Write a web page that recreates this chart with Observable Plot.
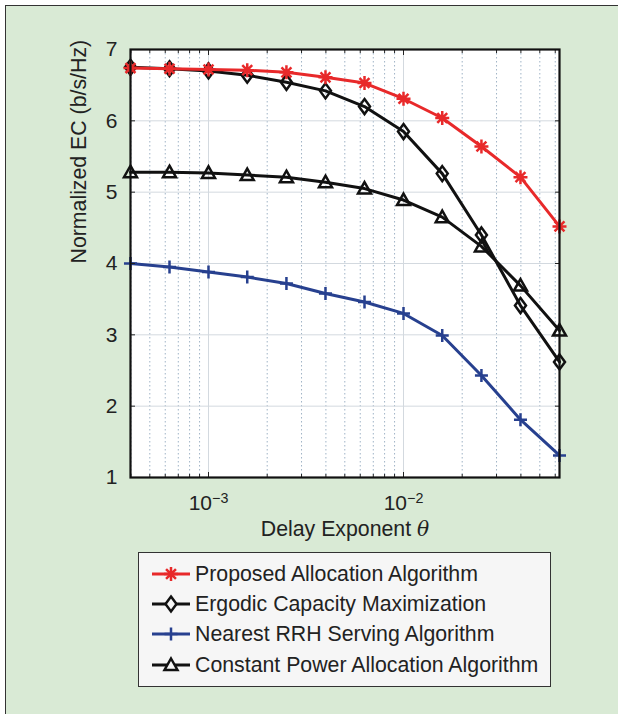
<!DOCTYPE html>
<html><head><meta charset="utf-8">
<script src="https://cdn.jsdelivr.net/npm/d3@7"></script>
<script src="https://cdn.jsdelivr.net/npm/@observablehq/plot@0.6"></script>
<style>
html,body{margin:0;padding:0;width:618px;height:714px;overflow:hidden;background:#fff;}
#panel{position:absolute;left:5px;top:5px;width:700px;height:800px;background:#d9ead5;border-top:1.5px solid #333;border-left:1.5px solid #333;}
#chart{position:absolute;left:0;top:0;}
#legend{position:absolute;left:138px;top:552px;width:411px;height:133px;background:#f6f6f6;border:1.5px solid #333;font-family:'Liberation Sans',Arial,sans-serif;font-size:21.3px;color:#222;}
.row{position:absolute;left:0;height:30px;display:flex;align-items:center;white-space:nowrap;}
.row svg{margin-left:13px;margin-right:5px;overflow:visible;}
</style>
</head><body>
<div id="panel"></div>
<div id="chart"></div>
<div id="legend"></div>
<script>
// ---- data ----
const theta = [0.000398, 0.000631, 0.001, 0.00158, 0.00251, 0.00398, 0.00631, 0.01, 0.0158, 0.0251, 0.0398, 0.0631];
const proposed = [6.74, 6.73, 6.72, 6.71, 6.68, 6.61, 6.53, 6.31, 6.04, 5.64, 5.21, 4.52];
const ergodic  = [6.75, 6.73, 6.70, 6.64, 6.54, 6.42, 6.20, 5.85, 5.26, 4.40, 3.41, 2.62];
const nearest  = [4.00, 3.95, 3.88, 3.81, 3.72, 3.58, 3.46, 3.30, 2.99, 2.43, 1.81, 1.31];
const constant = [5.28, 5.28, 5.27, 5.24, 5.21, 5.14, 5.05, 4.89, 4.65, 4.24, 3.69, 3.06];
const seriesNames = ["Proposed Allocation Algorithm", "Ergodic Capacity Maximization", "Nearest RRH Serving Algorithm", "Constant Power Allocation Algorithm"];
const yTicks = [1, 2, 3, 4, 5, 6, 7];
const xMajor = [0.001, 0.01];
const xMinor = [0.0004, 0.0005, 0.0006, 0.0007, 0.0008, 0.0009, 0.002, 0.003, 0.004, 0.005, 0.006, 0.007, 0.008, 0.009, 0.02, 0.03, 0.04, 0.05, 0.06];
const xTickLabels = ["10^-3", "10^-2"];
const xLabel = "Delay Exponent θ";
const yLabel = "Normalized EC (b/s/Hz)";

// ---- styles ----
const colors = ["#e8292a", "#111111", "#27408f", "#111111"];
const star8 = {draw(ctx){const r=7, d=r*Math.SQRT1_2; ctx.moveTo(-r,0);ctx.lineTo(r,0);ctx.moveTo(0,-r);ctx.lineTo(0,r);ctx.moveTo(-d,-d);ctx.lineTo(d,d);ctx.moveTo(-d,d);ctx.lineTo(d,-d);}};
const diamond = {draw(ctx){ctx.moveTo(0,-7.5);ctx.lineTo(5.5,0);ctx.lineTo(0,7.5);ctx.lineTo(-5.5,0);ctx.closePath();}};
const plus = {draw(ctx){const r=6.5; ctx.moveTo(-r,0);ctx.lineTo(r,0);ctx.moveTo(0,-r);ctx.lineTo(0,r);}};
const triangle = {draw(ctx){ctx.moveTo(0,-6.5);ctx.lineTo(6.5,5);ctx.lineTo(-6.5,5);ctx.closePath();}};
const symbols = [star8, diamond, plus, triangle];
const values = [proposed, ergodic, nearest, constant];

const seriesData = values.map((vals, s) => theta.map((t, i) => ({theta: t, v: vals[i], series: seriesNames[s]})));

const seriesMarks = [];
for (const s of [3, 2, 1, 0]) {
  seriesMarks.push(Plot.line(seriesData[s], {x: "theta", y: "v", stroke: colors[s], strokeWidth: 3}));
  seriesMarks.push(Plot.dot(seriesData[s], {x: "theta", y: "v", symbol: symbols[s], r: 6, stroke: colors[s], strokeWidth: 2.5, fill: "none"}));
}

const font = "'Liberation Sans', Arial, Helvetica, sans-serif";
const chart = Plot.plot({
  width: 618, height: 548,
  marginLeft: 130, marginRight: 59, marginTop: 49, marginBottom: 71,
  style: {fontFamily: font, fontSize: "21px", color: "#222", background: "transparent", overflow: "visible"},
  x: {type: "log", domain: [Math.pow(10, -3.4), Math.pow(10, -1.2)], label: null},
  y: {domain: [1, 7], label: null},
  marks: [
    Plot.frame({fill: "white", stroke: null}),
    Plot.ruleX(xMinor, {stroke: "#9fb3c6", strokeDasharray: "1.5,2.5", strokeWidth: 1}),
    Plot.ruleX(xMajor, {stroke: "#d3d9df", strokeWidth: 1}),
    Plot.ruleY(yTicks.slice(1, -1), {stroke: "#d3d9df", strokeWidth: 1}),
    ...seriesMarks,
    Plot.axisY({ticks: yTicks, anchor: "left", tickSize: 0, tickPadding: 13, tickFormat: d => String(d), label: null}),
    Plot.axisY({ticks: yTicks, anchor: "left", tickSize: -5, tickFormat: () => "", label: null, stroke: "#222"}),
    Plot.axisY({ticks: yTicks, anchor: "right", tickSize: -5, tickFormat: () => "", label: null, stroke: "#222"}),
    Plot.axisX({ticks: xMajor, anchor: "bottom", tickSize: 0, tickPadding: 18, tickFormat: d => xTickLabels[xMajor.indexOf(d)], label: null}),
    Plot.axisX({ticks: xMajor, anchor: "bottom", tickSize: -5, tickFormat: () => "", label: null, stroke: "#222"}),
    Plot.axisX({ticks: xMinor, anchor: "bottom", tickSize: -3, tickFormat: () => "", label: null, stroke: "#222"}),
    Plot.axisX({ticks: xMajor, anchor: "top", tickSize: -5, tickFormat: () => "", label: null, stroke: "#222"}),
    Plot.axisX({ticks: xMinor, anchor: "top", tickSize: -3, tickFormat: () => "", label: null, stroke: "#222"}),
    Plot.frame({stroke: "#111", strokeWidth: 2.2}),
    Plot.text([xLabel], {frameAnchor: "bottom", dy: 58, fontSize: 21.3, fill: "#222"}),
    Plot.text([yLabel], {frameAnchor: "left", dx: -51, rotate: -90, fontSize: 21.3, fill: "#222"})
  ]
});
document.getElementById("chart").appendChild(chart);

// superscript tick labels, italic theta
d3.select(chart).selectAll("text").each(function() {
  const s = this.textContent;
  if (xTickLabels.includes(s)) {
    const [base, exp] = s.split("^");
    const t = d3.select(this);
    t.text(null);
    t.append("tspan").text(base);
    t.append("tspan").attr("dy", "-0.55em").attr("font-size", "0.68em").text(exp.replace("-", "\u2212"));
  } else if (s === xLabel) {
    const t = d3.select(this);
    const parts = s.split("θ");
    t.text(null);
    t.append("tspan").text(parts[0]);
    t.append("tspan").attr("font-style", "italic").attr("font-family", "'DejaVu Serif', serif").attr("font-size", "0.95em").text("θ");
  }
});

// legend
const legend = d3.select("#legend");
const rowCenters = [21, 51, 81, 112];
seriesNames.forEach((name, s) => {
  const row = legend.append("div").attr("class", "row").style("top", (rowCenters[s] - 15) + "px");
  const svg = row.append("svg").attr("width", 38).attr("height", 20);
  svg.append("line").attr("x1", 0).attr("x2", 38).attr("y1", 10).attr("y2", 10).attr("stroke", colors[s]).attr("stroke-width", 3);
  svg.append("path").attr("transform", "translate(19,10)").attr("d", d3.symbol(symbols[s])()).attr("fill", "#f6f6f6").attr("stroke", colors[s]).attr("stroke-width", 2.5);
  row.append("span").text(name);
});
</script>
</body></html>
